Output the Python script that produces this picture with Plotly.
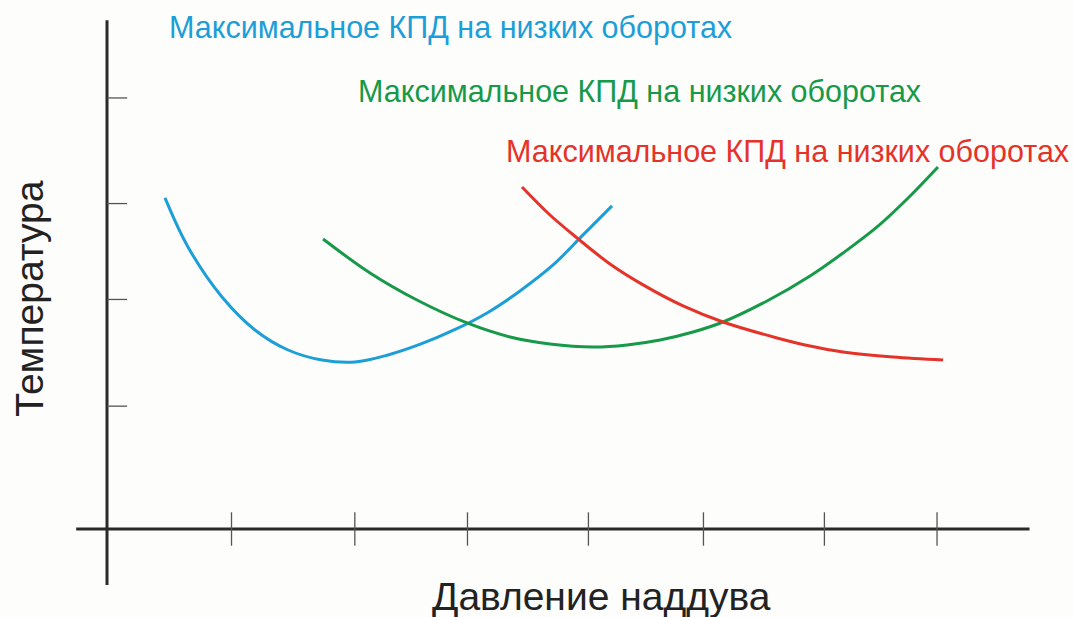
import plotly.graph_objects as go

# ---- data ----
blue_x = [0.489, 0.683, 0.970, 1.248, 1.527, 1.813, 2.092, 2.370, 2.648, 2.927, 3.205, 3.483, 3.762, 4.015, 4.259]
blue_y = [3.072, 2.617, 2.153, 1.847, 1.661, 1.568, 1.550, 1.615, 1.717, 1.847, 2.005, 2.209, 2.450, 2.729, 2.998]

green_x = [1.822, 2.218, 2.614, 3.036, 3.399, 3.736, 4.099, 4.386, 4.664, 4.942, 5.195, 5.566, 5.929, 6.207, 6.494, 6.756, 7.008]
green_y = [2.691, 2.376, 2.125, 1.912, 1.782, 1.717, 1.689, 1.708, 1.754, 1.828, 1.921, 2.116, 2.348, 2.561, 2.803, 3.072, 3.360]

red_x = [3.500, 3.736, 3.964, 4.242, 4.521, 4.858, 5.195, 5.651, 5.929, 6.207, 6.629, 7.051]
red_y = [3.174, 2.914, 2.701, 2.459, 2.265, 2.070, 1.921, 1.773, 1.698, 1.643, 1.596, 1.568]

x_ticks = [1.05, 2.09, 3.04, 4.06, 5.03, 6.05, 7.00]
y_ticks = [1.14, 2.13, 3.02, 4.00]

label_text = "Максимальное КПД на низких оборотах"
x_title = "Давление наддува"
y_title = "Температура"

x_axis_extent = [-0.26, 7.78]
y_axis_extent = [-0.52, 4.72]

BLUE = "#1c9ed8"
GREEN = "#17994a"
RED = "#e5332a"
AXIS = "#2a2a2a"
BG = "#fdfdfb"

fig = go.Figure()
for xs, ys, c in [(blue_x, blue_y, BLUE), (green_x, green_y, GREEN), (red_x, red_y, RED)]:
    fig.add_trace(go.Scatter(x=xs, y=ys, mode="lines",
                             line=dict(color=c, width=3, shape="spline", smoothing=1.0),
                             hoverinfo="skip", showlegend=False))

shapes = []
# main axes
shapes.append(dict(type="line", xref="x", yref="y", x0=x_axis_extent[0], x1=x_axis_extent[1],
                   y0=0, y1=0, line=dict(color=AXIS, width=3)))
shapes.append(dict(type="line", xref="x", yref="y", x0=0, x1=0,
                   y0=y_axis_extent[0], y1=y_axis_extent[1], line=dict(color=AXIS, width=3)))
# ticks
for t in x_ticks:
    shapes.append(dict(type="line", xref="x", yref="y", x0=t, x1=t, y0=-0.155, y1=0.155,
                       line=dict(color="#555555", width=1.3)))
for t in y_ticks:
    shapes.append(dict(type="line", xref="x", yref="y", x0=0, x1=0.17, y0=t, y1=t,
                       line=dict(color="#555555", width=1.3)))

annotations = [
    dict(x=2.893, y=4.65, text=label_text, font=dict(color=BLUE, size=30.5)),
    dict(x=4.487, y=4.056, text=label_text, font=dict(color=GREEN, size=30.5)),
    dict(x=5.743, y=3.499, text=label_text, font=dict(color=RED, size=30.5)),
    dict(x=4.17, y=-0.63, text=x_title, font=dict(color="#222222", size=39)),
    dict(x=-0.655, y=2.14, text=y_title, textangle=-90, font=dict(color="#222222", size=39)),
]
for a in annotations:
    a.update(xref="x", yref="y", showarrow=False, xanchor="center", yanchor="middle")

fig.update_layout(
    width=1074, height=617,
    margin=dict(l=0, r=0, t=0, b=0),
    paper_bgcolor=BG, plot_bgcolor=BG,
    font=dict(family="Liberation Sans, Arial, sans-serif"),
    xaxis=dict(range=[-0.9024, 8.155], visible=False, fixedrange=True),
    yaxis=dict(range=[-0.8167, 4.909], visible=False, fixedrange=True),
    shapes=shapes, annotations=annotations, showlegend=False,
)

fig.write_html(
    "out.html",
    config={"displayModeBar": False},
    post_script="document.body.style.margin='0';document.body.style.overflow='hidden';",
)
